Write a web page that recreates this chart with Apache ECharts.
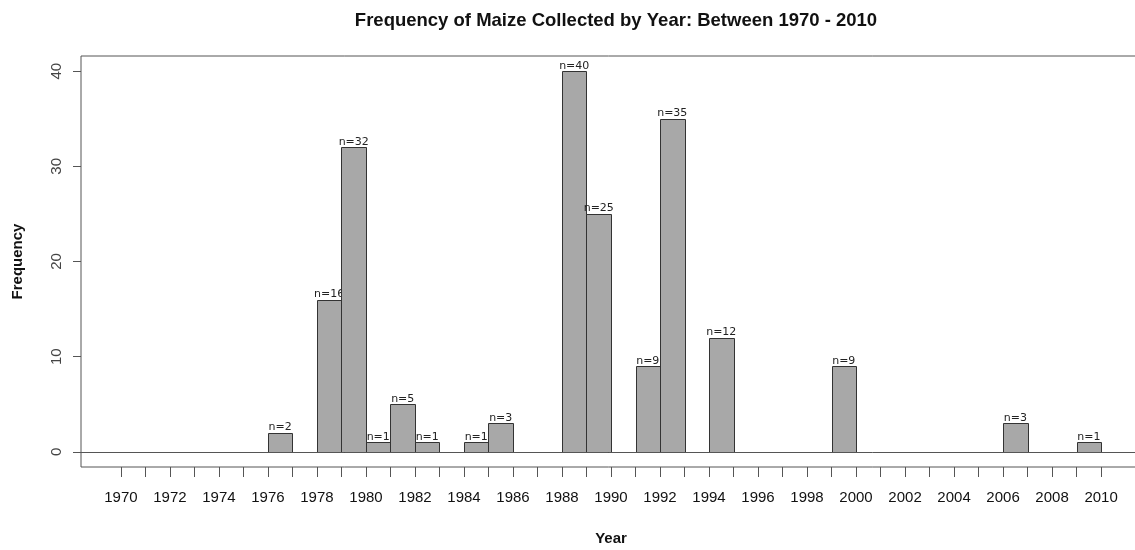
<!DOCTYPE html>
<html>
<head>
<meta charset="utf-8">
<title>Frequency of Maize Collected by Year</title>
<script src="https://cdn.jsdelivr.net/npm/echarts@6/dist/echarts.min.js"></script>
<style>
  html, body { margin: 0; padding: 0; background: #fff; }
  #chart { width: 1135px; height: 550px; }
</style>
</head>
<body>
<div id="chart"></div>
<script>
// year of each bar (bar covers [year, year + 1)) and its count
var years = [1976, 1978, 1979, 1980, 1981, 1982, 1984, 1985, 1988, 1989, 1991, 1992, 1994, 1999, 2006, 2009];
var counts = [2, 16, 32, 1, 5, 1, 1, 3, 40, 25, 9, 35, 12, 9, 3, 1];

// axis ticks / labels
var xTicks = [];
for (var t = 1970; t <= 2010; t++) xTicks.push(t);
var xTickLabels = [1970, 1972, 1974, 1976, 1978, 1980, 1982, 1984, 1986, 1988, 1990,
  1992, 1994, 1996, 1998, 2000, 2002, 2004, 2006, 2008, 2010];
var yTickLabels = [0, 10, 20, 30, 40];

var chart = echarts.init(document.getElementById("chart"));

var barData = years.map(function (y, i) {
  return [y, counts[i]];
});

var option = {
  animation: false,
  backgroundColor: "#fff",
  title: {
    text: "Frequency of Maize Collected by Year: Between 1970 - 2010",
    left: 611,
    top: 6,
    textAlign: "center",
    textStyle: {
      fontFamily: "Liberation Sans",
      fontSize: 18.5,
      fontWeight: "bold",
      color: "#111",
    },
  },
  grid: {
    left: 81,
    right: -6,
    top: 56,
    bottom: 83,
    outerBoundsMode: "none",
    containLabel: false,
    show: true,
    borderColor: "#555",
    borderWidth: 1,
  },
  xAxis: {
    type: "value",
    min: 1968.37,
    max: 2011.63,
    name: "Year",
    nameLocation: "middle",
    nameGap: 64,
    nameTextStyle: {
      fontFamily: "Liberation Sans",
      fontSize: 15,
      fontWeight: "bold",
      color: "#111",
    },
    axisLine: { show: false, onZero: false },
    splitLine: { show: false },
    axisTick: {
      show: true,
      customValues: xTicks,
      length: 10,
      lineStyle: { color: "#555", width: 1 },
    },
    axisLabel: {
      customValues: xTickLabels,
      margin: 23,
      fontFamily: "Liberation Sans",
      fontSize: 15,
      color: "#111",
      formatter: function (v) {
        return String(v);
      },
    },
  },
  yAxis: {
    type: "value",
    min: -1.6,
    max: 41.6,
    name: "Frequency",
    nameLocation: "middle",
    nameRotate: 90,
    nameGap: 56,
    nameTextStyle: {
      fontFamily: "Liberation Sans",
      fontSize: 15,
      fontWeight: "bold",
      color: "#111",
    },
    axisLine: { show: false, onZero: false },
    splitLine: { show: false },
    axisTick: {
      show: true,
      customValues: yTickLabels,
      length: 8,
      lineStyle: { color: "#555", width: 1 },
    },
    axisLabel: {
      customValues: yTickLabels,
      rotate: 90,
      margin: 17,
      fontFamily: "Liberation Sans",
      fontSize: 15,
      color: "#444",
    },
  },
  series: [
    {
      type: "custom",
      data: barData,
      encode: { x: 0, y: 1 },
      renderItem: function (params, api) {
        var yr = api.value(0);
        var n = api.value(1);
        var tl = api.coord([yr, n]);
        var br = api.coord([yr + 1, 0]);
        return {
          type: "group",
          children: [
            {
              type: "rect",
              shape: {
                x: Math.round(tl[0]) + 0.5,
                y: Math.round(tl[1]) + 0.5,
                width: Math.round(br[0]) - Math.round(tl[0]),
                height: Math.round(br[1]) - Math.round(tl[1]),
              },
              style: { fill: "#a8a8a8", stroke: "#333", lineWidth: 1 },
            },
            {
              type: "text",
              style: {
                text: "n=" + n,
                x: (tl[0] + br[0]) / 2,
                y: tl[1],
                align: "center",
                verticalAlign: "bottom",
                fontFamily: "DejaVu Sans",
                fontSize: 11,
                fill: "#222",
              },
            },
          ],
        };
      },
      markLine: {
        silent: true,
        symbol: ["none", "none"],
        label: { show: false },
        lineStyle: { color: "#555", type: "solid", width: 1 },
        data: [{ yAxis: 0 }],
      },
    },
  ],
};

chart.setOption(option);
window.addEventListener("resize", function () {
  chart.resize();
});
</script>
</body>
</html>
